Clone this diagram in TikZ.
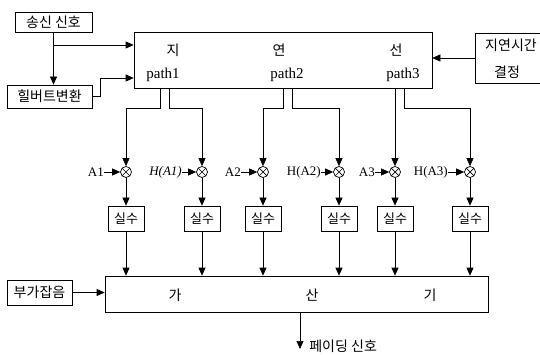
\documentclass[tikz,border=0pt]{standalone}
\usepackage{fontspec}
\setmainfont{Liberation Serif}
\newfontfamily\kr{Noto Sans CJK KR}
\usetikzlibrary{arrows.meta}
\begin{document}
\begin{tikzpicture}[x=1pt,y=-1pt,
  line width=0.7pt,
  arr/.style={-{Triangle[length=8pt,width=7pt]}},
  blk/.style={draw,rectangle,inner sep=0pt,font=\kr\fontsize{14}{16}\selectfont},
  mul/.style={draw,circle,minimum size=11pt,inner sep=0pt,
    path picture={\draw (path picture bounding box.north west) -- (path picture bounding box.south east)
                        (path picture bounding box.north east) -- (path picture bounding box.south west);}},
  lab/.style={anchor=east,inner sep=0pt,font=\fontsize{13}{15}\selectfont},
  krt/.style={font=\kr\fontsize{14}{16}\selectfont,inner sep=0pt},
  lat/.style={font=\fontsize{15}{17}\selectfont,inner sep=0pt}
]
\useasboundingbox (0,0) rectangle (540,355);
\begin{scope}
\clip (0,0) rectangle (540,355);
% top blocks
\node[blk,minimum width=77pt,minimum height=20pt] (song) at (53.5,22) {송신\ 신호};
\node[blk,minimum width=85pt,minimum height=23pt] (hil) at (49.5,96.5) {힐버트변환};
\node[draw,rectangle,minimum width=298pt,minimum height=56pt] (delay) at (283,60) {};
\node[draw,rectangle,minimum width=70pt,minimum height=50pt] (gyeol) at (510,58) {};
\node[krt] (g1) at (511,45) {지연시간};
\node[krt] (g2) at (507,72) {결정};
\node[krt] (d1) at (173,50) {지};
\node[krt] (d2) at (279,50) {연};
\node[krt] (d3) at (396,50) {선};
\node[lat] (p1) at (163,75) {path1};
\node[lat] (p2) at (287,75) {path2};
\node[lat] (p3) at (403,75) {path3};
\end{scope}

% input connectors
\draw[arr] (song.south) -- (song.south |- hil.north);
\draw[arr] (song.south |- 0,45) -- (delay.west |- 0,45);
\draw[arr] (hil.east) -- ++(8,0) |- (delay.west |- 0,78);
\draw[arr] (gyeol.west) -- (delay.east |- gyeol.west);

% multipliers
\node[mul] (m1) at (126,172) {};
\node[mul] (m2) at (202,172) {};
\node[mul] (m3) at (263,172) {};
\node[mul] (m4) at (339,172) {};
\node[mul] (m5) at (395,172) {};
\node[mul] (m6) at (470,172) {};

% path connectors
\draw[arr] ([xshift=27pt]delay.south west) -- ++(0,20) -| (m1.north);
\draw[arr] ([xshift=36pt]delay.south west) -- ++(0,20) -| (m2.north);
\draw[arr] ([xshift=150pt]delay.south west) -- ++(0,20) -| (m3.north);
\draw[arr] ([xshift=159pt]delay.south west) -- ++(0,20) -| (m4.north);
\draw[arr] (m5.north |- delay.south) -- (m5.north);
\draw[arr] ([xshift=271pt]delay.south west) -- ++(0,20) -| (m6.north);

% labels
\node[lab] (a1) at ([xshift=-16pt]m1.west) {A1};
\node[lab] (h1) at ([xshift=-14pt]m2.west) {\itshape H(A1)};
\node[lab] (a2) at ([xshift=-16pt]m3.west) {A2};
\node[lab] (h2) at ([xshift=-12pt]m4.west) {H(A2)};
\node[lab] (a3) at ([xshift=-14pt]m5.west) {A3};
\node[lab] (h3) at ([xshift=-16pt]m6.west) {H(A3)};
\draw[arr] (a1.east) -- (m1.west);
\draw[arr] (h1.east) -- (m2.west);
\draw[arr] (a2.east) -- (m3.west);
\draw[arr] (h2.east) -- (m4.west);
\draw[arr] (a3.east) -- (m5.west);
\draw[arr] (h3.east) -- (m6.west);

% real-part blocks
\foreach \i in {1,...,6} {
  \node[blk,minimum width=36pt,minimum height=25pt,font=\kr\fontsize{13}{15}\selectfont] (s\i) at (m\i |- 0,218.5) {실수};
  \draw[arr] (m\i.south) -- (s\i.north);
}

% adder
\node[draw,rectangle,minimum width=383pt,minimum height=36pt] (add) at (296.5,294) {};
\node[krt] (k1) at (175,295) {가};
\node[krt] (k2) at (312,295) {산};
\node[krt] (k3) at (430,295) {기};
\foreach \i in {1,...,6} {
  \draw[arr] (s\i.south) -- (s\i.south |- add.north);
}
\node[blk,minimum width=65pt,minimum height=25pt] (noise) at (39.5,292.5) {부가잡음};
\draw[arr] (noise.east) -- (add.west |- noise.east);

% output
\coordinate (out) at (300,349);
\draw[arr] (out |- add.south) -- (out);
\node[krt,anchor=west] (outl) at (309,346) {페이딩\ 신호};
\end{tikzpicture}
\end{document}
